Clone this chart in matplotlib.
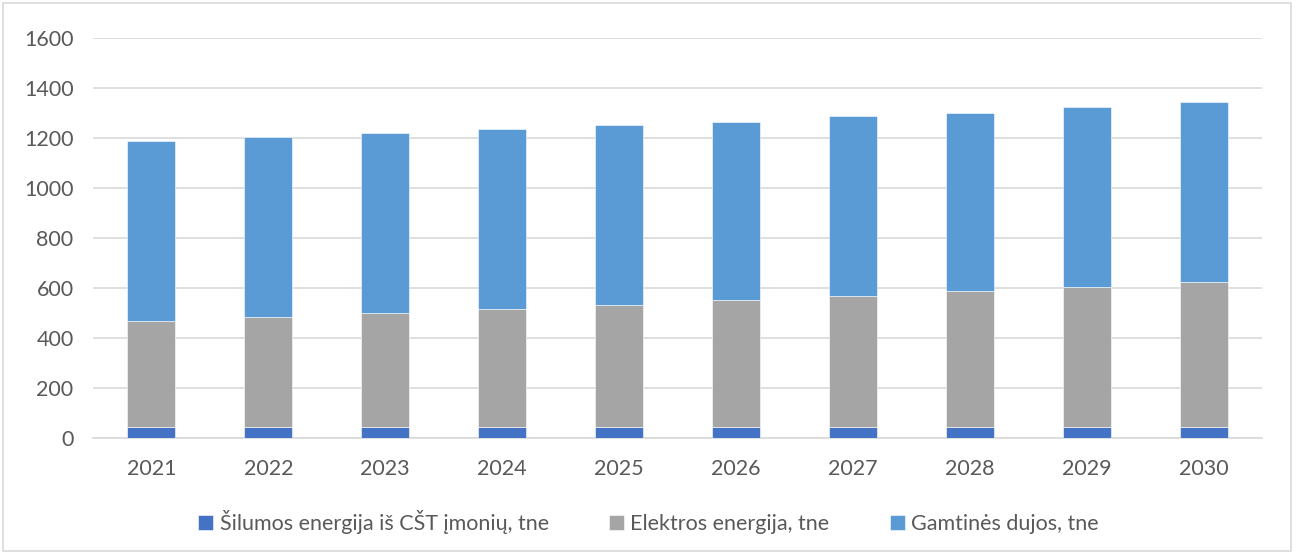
import matplotlib
matplotlib.use("Agg")
import matplotlib.pyplot as plt
from matplotlib.patches import Rectangle
import numpy as np

years = ["2021", "2022", "2023", "2024", "2025", "2026", "2027", "2028", "2029", "2030"]
heat = [42, 42, 42, 42, 42, 42, 42, 42, 42, 42]
electricity = [426, 441, 457, 472, 488, 509, 524, 545, 560, 581]
gas = [718, 719, 719, 720, 720, 713, 720, 713, 720, 719]
labels = ["Šilumos energija iš CŠT įmonių, tne", "Elektros energija, tne", "Gamtinės dujos, tne"]
colors = ["#4472C4", "#A5A5A5", "#5B9BD5"]

plt.rcParams['font.family'] = ['Lato', 'DejaVu Sans']

fig = plt.figure(figsize=(12.97, 5.54), dpi=100)
ax = fig.add_axes([93/1297, 1-437.7/554, (1262-93)/1297, (437.7-37.7)/554])

x = np.arange(len(years))
w = 0.41
h = np.array(heat)
e = np.array(electricity)
g = np.array(gas)
ax.bar(x, h, w, color=colors[0], label=labels[0], edgecolor="white", linewidth=0.4, zorder=3)
ax.bar(x, e, w, bottom=h, color=colors[1], label=labels[1], edgecolor="white", linewidth=0.4, zorder=3)
ax.bar(x, g, w, bottom=h + e, color=colors[2], label=labels[2], edgecolor="white", linewidth=0.4, zorder=3)

ax.set_xlim(-0.5, len(years) - 0.5)
ax.set_ylim(0, 1600)
ax.set_yticks(range(0, 1601, 200))
ax.set_xticks(x)
ax.set_xticklabels(years)
ax.yaxis.grid(True, color="#d9d9d9", linewidth=1.2, zorder=0)
ax.set_axisbelow(True)
for s in ["top", "right", "left"]:
    ax.spines[s].set_visible(False)
ax.spines["bottom"].set_color("#d9d9d9")
ax.spines["bottom"].set_linewidth(1.2)
ax.tick_params(axis="both", length=0, labelsize=15.5, colors="#595959")
ax.tick_params(axis="x", pad=15)
ax.tick_params(axis="y", pad=14)

leg = fig.legend(loc="center", bbox_to_anchor=(0.5, 1-522/554), ncol=3, frameon=False,
                 fontsize=15.5, handlelength=0.7, handleheight=0.7, handletextpad=0.3,
                 columnspacing=2.8)
for t in leg.get_texts():
    t.set_color("#595959")

fig.patches.append(Rectangle((3/1297, 3/554), 1288/1297, 548/554, transform=fig.transFigure,
                             fill=False, edgecolor="#d9d9d9", linewidth=1.2))

fig.savefig("out.png", dpi=100)
